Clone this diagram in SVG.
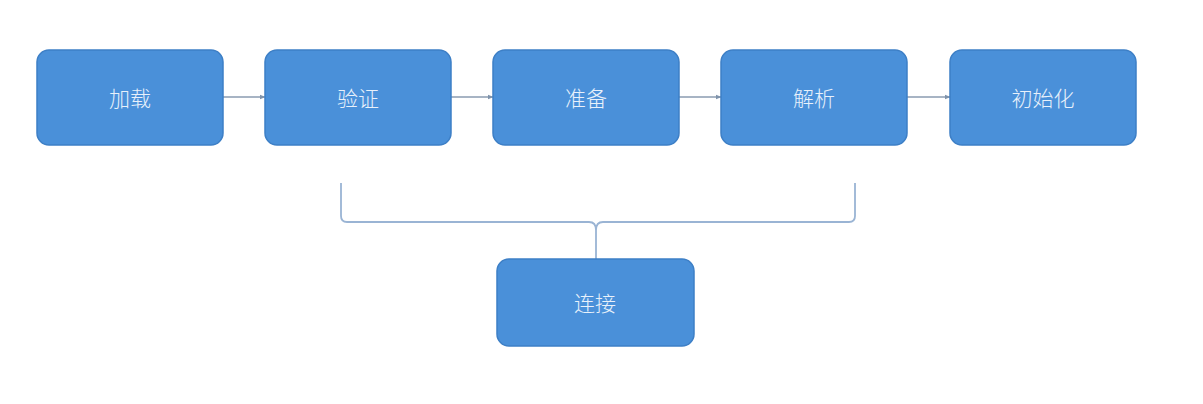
<svg xmlns="http://www.w3.org/2000/svg" width="1203" height="404" viewBox="0 0 1203 404">
<style>
.box{fill:#4a90d9;stroke:#3d7fc6;stroke-width:1.5}
.lbl{font-family:"Noto Sans CJK SC","Liberation Sans",sans-serif;font-size:21px;font-weight:300;fill:#e8f1fb;text-anchor:middle;dominant-baseline:central}
.arr{stroke:#8a9bb0;stroke-width:1.5;fill:none}
.brace{stroke:#9ab4d4;stroke-width:1.8;fill:none}
</style>
<defs>
<marker id="ah" viewBox="0 0 10 10" refX="9" refY="5" markerWidth="6" markerHeight="6" orient="auto" markerUnits="userSpaceOnUse">
<path d="M0,1 L10,5 L0,9 z" fill="#7f93ab"/>
</marker>
</defs>
<rect width="1203" height="404" fill="#ffffff"/>
<g id="connectors">
<line class="arr" x1="223" y1="97" x2="265" y2="97" marker-end="url(#ah)"/>
<line class="arr" x1="451" y1="97" x2="493" y2="97" marker-end="url(#ah)"/>
<line class="arr" x1="679" y1="97" x2="721" y2="97" marker-end="url(#ah)"/>
<line class="arr" x1="907" y1="97" x2="950" y2="97" marker-end="url(#ah)"/>
<path class="brace" d="M341,183 L341,216 Q341,222 347,222 L589,222 Q596,222 596,230 L596,259 M596,230 Q596,222 603,222 L849,222 Q855,222 855,216 L855,183"/>
</g>
<g id="n1"><rect class="box" x="37" y="50" width="186" height="95" rx="12"/><text class="lbl" x="130" y="97">加载</text></g>
<g id="n2"><rect class="box" x="265" y="50" width="186" height="95" rx="12"/><text class="lbl" x="358" y="97">验证</text></g>
<g id="n3"><rect class="box" x="493" y="50" width="186" height="95" rx="12"/><text class="lbl" x="586" y="97">准备</text></g>
<g id="n4"><rect class="box" x="721" y="50" width="186" height="95" rx="12"/><text class="lbl" x="814" y="97">解析</text></g>
<g id="n5"><rect class="box" x="950" y="50" width="186" height="95" rx="12"/><text class="lbl" x="1043" y="97">初始化</text></g>
<g id="n6"><rect class="box" x="497" y="259" width="197" height="87" rx="12"/><text class="lbl" x="595" y="302">连接</text></g>
</svg>
